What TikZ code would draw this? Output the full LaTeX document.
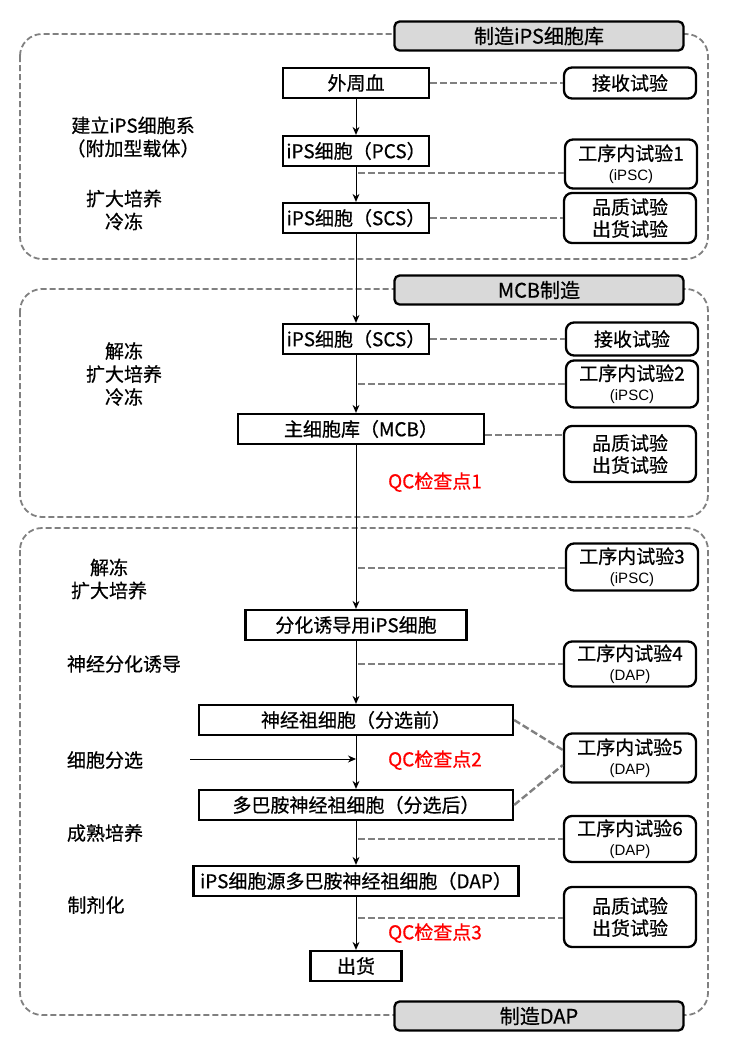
\documentclass[tikz,border=0pt]{standalone}
\usepackage{fontspec}
\setmainfont{Noto Sans CJK SC}[FakeBold=0.6]
\newfontfamily\latinsans{Liberation Sans}
\usepackage{xcolor}
\usetikzlibrary{arrows.meta, positioning, calc}

\definecolor{dashgray}{RGB}{128,128,128}
\definecolor{titlegray}{RGB}{217,217,217}
\definecolor{qcred}{RGB}{255,0,0}

\newcommand{\smalltag}[1]{{\latinsans\fontsize{15}{17}\selectfont #1}}

\tikzset{
  stepbox/.style={draw, line width=2.3pt, minimum height=30pt, inner sep=0pt, font=\fontsize{19}{22}\selectfont},
  testbox/.style={draw, line width=2.3pt, rounded corners=8pt, minimum width=132pt, inner sep=0pt, align=center, font=\fontsize{19}{22}\selectfont},
  titlebox/.style={draw, line width=2.3pt, rounded corners=5pt, fill=titlegray, minimum width=289pt, minimum height=29pt, font=\fontsize{20}{22}\selectfont},
  grouparea/.style={draw=dashgray, line width=1.8pt, dash pattern=on 6pt off 3pt, rounded corners=22pt},
  testline/.style={draw=dashgray, line width=2.4pt, dash pattern=on 7pt off 3pt},
  flow/.style={-{Stealth[length=8pt, width=7pt]}, line width=1pt},
  phase/.style={align=center, font=\fontsize{19}{23}\selectfont},
  qcmark/.style={text=qcred, font=\fontsize{19}{22}\selectfont},
}

\begin{document}
\begin{tikzpicture}[x=1pt, y=-1pt]
    \useasboundingbox (0,0) rectangle (731,1053);

    % iPS cell bank
    \draw[grouparea] (20,34) rectangle (708,259);
    \node[titlebox] (title1) at (539,36) {制造iPS细胞库};
    \node[stepbox, minimum width=146pt] (blood) at (356,83) {外周血};
    \node[stepbox, minimum width=146pt] (pcs) at (356,151) {iPS细胞（PCS）};
    \node[stepbox, minimum width=146pt] (scs) at (356,218) {iPS细胞（SCS）};
    \node[testbox, minimum height=31pt] (recv1) at (630,83) {接收试验};
    \node[testbox, minimum height=49pt] (ipt1) at (631,164) {工序内试验1\\[-2pt]\smalltag{(iPSC)}};
    \node[testbox, minimum height=50pt] (qual1) at (630,218) {品质试验\\出货试验};
    \node[phase] (establish) at (133,137) {建立iPS细胞系\\（附加型载体）};
    \node[phase] (expand1) at (124,210) {扩大培养\\冷冻};

    \draw[flow] (blood) -- (pcs);
    \draw[flow] (pcs) -- (scs);
    \draw[testline] (blood) -- (recv1);
    \coordinate (tap1) at (358,173);
    \draw[testline] (tap1) -- (tap1 -| ipt1.west);
    \draw[testline] (scs) -- (qual1);

    % MCB
    \draw[grouparea] (20,289) rectangle (708,517);
    \node[titlebox] (title2) at (539,290) {MCB制造};
    \node[stepbox, minimum width=146pt] (scs2) at (356,339) {iPS细胞（SCS）};
    \node[testbox, minimum height=33pt] (recv2) at (632,339) {接收试验};
    \node[testbox, minimum height=47pt] (ipt2) at (632,384) {工序内试验2\\[-2pt]\smalltag{(iPSC)}};
    \node[stepbox, minimum width=246pt] (mcb) at (361,429) {主细胞库（MCB）};
    \node[testbox, minimum height=56pt] (qual2) at (630,454) {品质试验\\出货试验};
    \node[qcmark] (qc1) at (435,482) {QC检查点1};
    \node[phase] (thaw1) at (124,374) {解冻\\扩大培养\\冷冻};

    \draw[flow] (scs) -- (scs2);
    \draw[flow] (scs2) -- (scs2 |- mcb.north);
    \draw[testline] (scs2) -- (recv2);
    \coordinate (tap2) at (358,384);
    \draw[testline] (tap2) -- (tap2 -| ipt2.west);
    \draw[testline] ([yshift=-6pt]mcb.east) -- ([yshift=-6pt]mcb.east -| qual2.west);

    % DAP
    \draw[grouparea] (20,528) rectangle (708,1015);
    \node[titlebox] (title3) at (539,1016) {制造DAP};
    \node[testbox, minimum height=47pt] (ipt3) at (632,567) {工序内试验3\\[-2pt]\smalltag{(iPSC)}};
    \node[phase] (thaw2) at (109,579) {解冻\\扩大培养};
    \node[stepbox, minimum width=221pt] (diff) at (356,625) {分化诱导用iPS细胞};
    \node[phase] (induce) at (124,664) {神经分化诱导};
    \node[testbox, minimum height=45pt] (ipt4) at (630,664) {工序内试验4\\[-2pt]\smalltag{(DAP)}};
    \node[stepbox, minimum width=314pt] (npc) at (356,720) {神经祖细胞（分选前）};
    \node[testbox, minimum height=49pt] (ipt5) at (630,758) {工序内试验5\\[-2pt]\smalltag{(DAP)}};
    \node[phase] (sort) at (105,760) {细胞分选};
    \node[qcmark] (qc2) at (435,760) {QC检查点2};
    \node[stepbox, minimum width=314pt] (dopa) at (356,805) {多巴胺神经祖细胞（分选后）};
    \node[phase] (mature) at (105,833) {成熟培养};
    \node[testbox, minimum height=46pt] (ipt6) at (630,839) {工序内试验6\\[-2pt]\smalltag{(DAP)}};
    \node[stepbox, minimum width=325pt] (dap) at (356,881) {iPS细胞源多巴胺神经祖细胞（DAP）};
    \node[phase] (formul) at (96,905) {制剂化};
    \node[testbox, minimum height=60pt] (qual3) at (630,917) {品质试验\\出货试验};
    \node[qcmark] (qc3) at (435,933) {QC检查点3};
    \node[stepbox, minimum width=91pt] (ship) at (356,966) {出货};

    \draw[flow] (mcb.south -| diff.north) -- (diff.north);
    \draw[flow] (diff) -- (npc);
    \draw[flow] (npc) -- (dopa);
    \draw[flow] (dopa) -- (dap);
    \draw[flow] (dap) -- (ship);
    \coordinate (sortin) at (190,759);
    \draw[flow] (sortin) -- (sortin -| npc.south);
    \coordinate (tap3) at (358,568);
    \draw[testline] (tap3) -- (tap3 -| ipt3.west);
    \coordinate (tap4) at (358,664);
    \draw[testline] (tap4) -- (tap4 -| ipt4.west);
    \draw[testline] (npc.east) -- ([yshift=8pt]ipt5.west);
    \draw[testline] (dopa.east) -- ([yshift=-7pt]ipt5.west);
    \coordinate (tap5) at (358,839);
    \draw[testline] (tap5) -- (tap5 -| ipt6.west);
    \coordinate (tap6) at (358,918);
    \draw[testline] (tap6) -- (tap6 -| qual3.west);
\end{tikzpicture}
\end{document}
